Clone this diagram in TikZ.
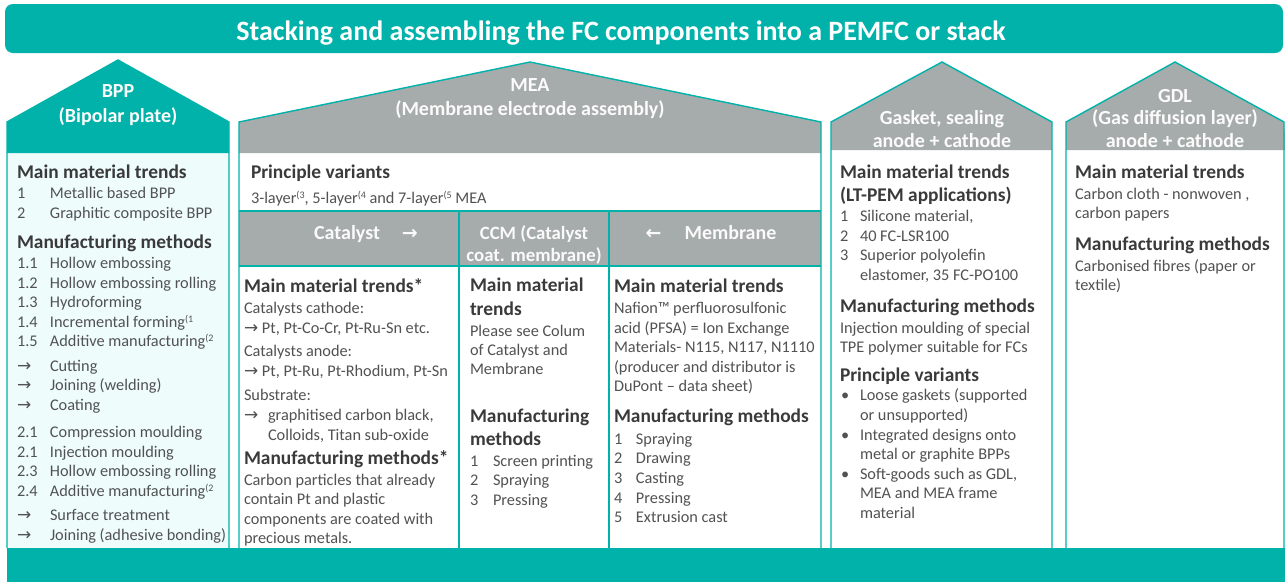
\documentclass[tikz,border=0pt]{standalone}
\usepackage{fontspec}
\setmainfont{Carlito}
\newfontfamily\symf{DejaVu Sans}

\definecolor{tealc}{HTML}{00B2A9}
\definecolor{roofgray}{HTML}{A6ACAB}
\definecolor{bppfill}{HTML}{EFFCFC}
\definecolor{bodytxt}{HTML}{525252}
\definecolor{headtxt}{HTML}{3A3A3A}

% arrows and superscript references
\newcommand\rarr{{\symf\fontsize{17}{17}\selectfont\char"2192}}
\newcommand\hrarr{{\symf\fontsize{19}{19}\selectfont\char"2192}}
\newcommand\hlarr{{\symf\fontsize{19}{19}\selectfont\char"2190}}
\newcommand\supx[1]{\raisebox{0.6ex}{\fontsize{10}{10}\selectfont #1}}

% one line of text, baseline at (x,y)
\newcounter{lnno}
\newcommand\tline[4][body]{\stepcounter{lnno}\node[#1] (t\arabic{lnno}) at (#2,#3) {#4};}
\newcommand\nitem[3]{\makebox[#1][l]{#2}#3}

\begin{document}
\begin{tikzpicture}[x=1pt,y=-1pt,
  body/.style={anchor=base west, inner sep=0pt, outer sep=0pt, text=bodytxt,
    font=\fontsize{16.3}{19.5}\selectfont},
  head/.style={anchor=base west, inner sep=0pt, outer sep=0pt, text=headtxt,
    font=\fontsize{19.4}{23}\selectfont\bfseries},
  roofttl/.style={anchor=base, inner sep=0pt, text=white!97!gray,
    font=\fontsize{20}{24}\selectfont\bfseries},
  colttl/.style={anchor=base, inner sep=0pt, text=white!96!gray,
    font=\fontsize{20}{23}\selectfont\bfseries},
  ccmttl/.style={colttl, font=\fontsize{18.8}{22}\selectfont\bfseries},
  frame/.style={draw=tealc, line width=1.4pt},
  rule/.style={draw=tealc, line width=1.2pt}]
\useasboundingbox (0,0) rectangle (1285,582);

% ---------- title banner ----------
\fill[tealc, rounded corners=8pt] (5,4) rectangle (1283,53);
\node[anchor=base, inner sep=0pt, text=white, font=\fontsize{28}{32}\selectfont\bfseries]
  (title) at (621,40) {Stacking and assembling the FC components into a PEMFC or stack};

% ---------- BPP ----------
\fill[bppfill] (7,153) rectangle (229,548);
\fill[tealc] (7,153) -- (7,122) -- (118,60) -- (229,122) -- (229,153) -- cycle;
\draw[frame] (7,548) -- (7,122) -- (118,60) -- (229,122) -- (229,548);
\tline[roofttl]{118}{97}{BPP}
\tline[roofttl]{118}{122}{(Bipolar plate)}

% ---------- MEA ----------
\fill[white] (239,153) rectangle (821,548);
\fill[roofgray] (239,153) -- (239,122) -- (530,62) -- (821,122) -- (821,153) -- cycle;
\fill[roofgray] (239,211) rectangle (821,266);
\draw[frame] (239,548) -- (239,122) -- (530,62) -- (821,122) -- (821,548);
\draw[rule] (239,211) -- (821,211);
\draw[rule] (239,266) -- (821,266);
\draw[rule] (459,211) -- (459,548);
\draw[rule] (609,211) -- (609,548);
\tline[roofttl]{530}{91}{MEA}
\tline[roofttl]{530}{115}{(Membrane electrode assembly)}
\tline[colttl]{366}{239}{Catalyst\hspace{22pt}\hrarr}
\tline[ccmttl]{534}{239}{CCM (Catalyst}
\tline[ccmttl]{534}{261}{coat. membrane)}
\tline[colttl]{711}{239}{\hlarr\hspace{23pt}Membrane}

% ---------- Gasket ----------
\fill[white] (831,150) rectangle (1052,548);
\fill[roofgray] (831,150) -- (831,122) -- (942,62) -- (1052,122) -- (1052,150) -- cycle;
\draw[frame] (831,548) -- (831,122) -- (942,62) -- (1052,122) -- (1052,548);
\tline[roofttl]{942}{124}{Gasket, sealing}
\tline[roofttl]{942}{147}{anode + cathode}

% ---------- GDL ----------
\fill[white] (1066,150) rectangle (1286,548);
\fill[roofgray] (1066,150) -- (1066,122) -- (1175,62) -- (1284,122) -- (1286,150) -- cycle;
\draw[frame] (1066,548) -- (1066,122) -- (1175,62) -- (1284,122) -- (1284,548);
\tline[roofttl]{1175}{102}{GDL}
\tline[roofttl]{1175}{124}{(Gas diffusion layer)}
\tline[roofttl]{1175}{147}{anode + cathode}

% ---------- bottom bar ----------
\fill[tealc] (7,548) rectangle (1285,582);

% ---------- BPP text ----------
\tline[head]{17}{178}{Main material trends}
\tline{17}{198}{\nitem{33pt}{1}{Metallic based BPP}}
\tline{17}{218}{\nitem{33pt}{2}{Graphitic composite BPP}}
\tline[head]{17}{248}{Manufacturing methods}
\tline{17}{268}{\nitem{33pt}{1.1}{Hollow embossing}}
\tline{17}{288}{\nitem{33pt}{1.2}{Hollow embossing rolling}}
\tline{17}{307}{\nitem{33pt}{1.3}{Hydroforming}}
\tline{17}{327}{\nitem{33pt}{1.4}{Incremental forming\supx{(1}}}
\tline{17}{346}{\nitem{33pt}{1.5}{Additive manufacturing\supx{(2}}}
\tline{17}{371}{\nitem{33pt}{\rarr}{Cutting}}
\tline{17}{390}{\nitem{33pt}{\rarr}{Joining (welding)}}
\tline{17}{410}{\nitem{33pt}{\rarr}{Coating}}
\tline{17}{437}{\nitem{33pt}{2.1}{Compression moulding}}
\tline{17}{457}{\nitem{33pt}{2.1}{Injection moulding}}
\tline{17}{476}{\nitem{33pt}{2.3}{Hollow embossing rolling}}
\tline{17}{496}{\nitem{33pt}{2.4}{Additive manufacturing\supx{(2}}}
\tline{17}{520}{\nitem{33pt}{\rarr}{Surface treatment}}
\tline{17}{540}{\nitem{33pt}{\rarr}{Joining (adhesive bonding)}}

% ---------- MEA text ----------
\tline[head]{251}{178}{Principle variants}
\tline{251}{203}{3-layer\supx{(3}, 5-layer\supx{(4} and 7-layer\supx{(5} MEA}

% Catalyst
\tline[head]{244}{292}{Main material trends*}
\tline{244}{313}{Catalysts cathode:}
\tline{244}{333}{\rarr\ Pt, Pt-Co-Cr, Pt-Ru-Sn etc.}
\tline{244}{356}{Catalysts anode:}
\tline{244}{376}{\rarr\ Pt, Pt-Ru, Pt-Rhodium, Pt-Sn}
\tline{244}{400}{Substrate:}
\tline{244}{420}{\nitem{24pt}{\rarr}{graphitised carbon black,}}
\tline{268}{440}{Colloids, Titan sub-oxide}
\tline[head]{244}{464}{Manufacturing methods*}
\tline{244}{485}{Carbon particles that already}
\tline{244}{504}{contain Pt and plastic}
\tline{244}{524}{components are coated with}
\tline{244}{543}{precious metals.}

% CCM
\tline[head]{470}{291}{Main material}
\tline[head]{470}{315}{trends}
\tline{470}{336}{Please see Colum}
\tline{470}{355}{of Catalyst and}
\tline{470}{374}{Membrane}
\tline[head]{470}{422}{Manufacturing}
\tline[head]{470}{445}{methods}
\tline{470}{466}{\nitem{23pt}{1}{Screen printing}}
\tline{470}{485}{\nitem{23pt}{2}{Spraying}}
\tline{470}{505}{\nitem{23pt}{3}{Pressing}}

% Membrane
\tline[head]{614}{292}{Main material trends}
\tline{614}{313}{Nafion™ perfluorosulfonic}
\tline{614}{333}{acid (PFSA) = Ion Exchange}
\tline{614}{352}{Materials- N115, N117, N1110}
\tline{614}{372}{(producer and distributor is}
\tline{614}{391}{DuPont – data sheet)}
\tline[head]{614}{422}{Manufacturing methods}
\tline{614}{444}{\nitem{22pt}{1}{Spraying}}
\tline{614}{463}{\nitem{22pt}{2}{Drawing}}
\tline{614}{483}{\nitem{22pt}{3}{Casting}}
\tline{614}{503}{\nitem{22pt}{4}{Pressing}}
\tline{614}{522}{\nitem{22pt}{5}{Extrusion cast}}

% ---------- Gasket text ----------
\tline[head]{840}{178}{Main material trends}
\tline[head]{840}{201}{(LT-PEM applications)}
\tline{840}{221}{\nitem{20pt}{1}{Silicone material,}}
\tline{840}{241}{\nitem{20pt}{2}{40 FC-LSR100}}
\tline{840}{260}{\nitem{20pt}{3}{Superior polyolefin}}
\tline{860}{280}{elastomer, 35 FC-PO100}
\tline[head]{840}{312}{Manufacturing methods}
\tline{840}{333}{Injection moulding of special}
\tline{840}{352}{TPE polymer suitable for FCs}
\tline[head]{840}{381}{Principle variants}
\tline{841}{400}{\nitem{19pt}{•}{Loose gaskets (supported}}
\tline{860}{420}{or unsupported)}
\tline{841}{440}{\nitem{19pt}{•}{Integrated designs onto}}
\tline{860}{459}{metal or graphite BPPs}
\tline{841}{479}{\nitem{19pt}{•}{Soft-goods such as GDL,}}
\tline{860}{498}{MEA and MEA frame}
\tline{860}{518}{material}

% ---------- GDL text ----------
\tline[head]{1075}{178}{Main material trends}
\tline{1075}{199}{Carbon cloth - nonwoven ,}
\tline{1075}{218}{carbon papers}
\tline[head]{1075}{250}{Manufacturing methods}
\tline{1075}{271}{Carbonised fibres (paper or}
\tline{1075}{290}{textile)}
\end{tikzpicture}
\end{document}
